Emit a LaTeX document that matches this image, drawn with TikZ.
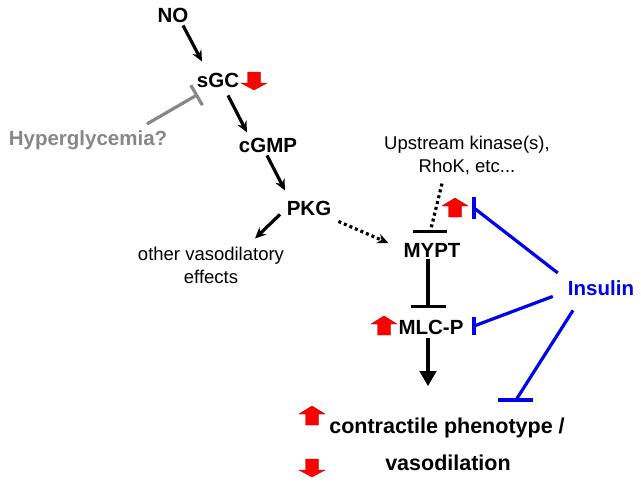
\documentclass[tikz,border=0pt]{standalone}
\usepackage{fontspec}
\setmainfont{Liberation Sans}
\usetikzlibrary{arrows.meta}
\definecolor{insblue}{RGB}{0,0,235}
\definecolor{hgray}{RGB}{135,135,135}
\definecolor{arrred}{RGB}{255,0,0}
\tikzset{
  redup/.pic={\filldraw[fill=arrred,draw=arrred!70!black,line width=0.4pt]
    (0,-10) -- (13,-2) -- (6.5,-2) -- (6.5,9) -- (-6.5,9) -- (-6.5,-2) -- (-13,-2) -- cycle;},
  reddown/.pic={\filldraw[fill=arrred,draw=arrred!70!black,line width=0.4pt]
    (0,9) -- (13,2) -- (6.5,2) -- (6.5,-9) -- (-6.5,-9) -- (-6.5,2) -- (-13,2) -- cycle;}
}
\begin{document}
\begin{tikzpicture}[x=1pt,y=-1pt,
  mol/.style = {font=\bfseries\fontsize{20.5}{24}\selectfont, anchor=base, inner sep=2pt},
  txt/.style = {font=\fontsize{18.5}{23}\selectfont, align=center, inner sep=2pt},
  act/.style = {line width=3.2pt, -{Stealth[length=11pt,width=10pt]}},
  dots/.style = {line width=3.2pt, dash pattern=on 3pt off 3pt},
  inhblue/.style = {line width=3.2pt, insblue}]
  \useasboundingbox (0,0) rectangle (641,483);
  % pathway
  \node[mol] (no) at (173,22) {NO};
  \node[mol] (sgc) at (218,87) {sGC};
  \node[mol] (cgmp) at (268,152) {cGMP};
  \node[mol] (pkg) at (309,215) {PKG};
  \node[mol, hgray] (hyper) at (88,145) {Hyperglycemia?};
  \node[txt] (other) at (211,265) {other vasodilatory\\effects};
  \node[txt] (ups) at (467,155) {Upstream kinase(s),\\RhoK, etc...};
  \node[mol] (mypt) at (432,257) {MYPT};
  \node[mol] (mlc) at (431,334) {MLC-P};
  \node[mol, insblue] (ins) at (601,295) {Insulin};
  \node[mol, font=\bfseries\fontsize{21.5}{24}\selectfont] (con) at (447,433) {contractile phenotype /};
  \node[mol, font=\bfseries\fontsize{21.5}{24}\selectfont] (vaso) at (448,470) {vasodilation};
  % red arrows
  \pic (d1) at (254,81) {reddown};
  \pic (u1) at (455,208) {redup};
  \pic (u2) at (384,326) {redup};
  \pic (u3) at (312,416) {redup};
  \pic (d2) at (312,468) {reddown};
  % ends of the blue bars
  \coordinate (t1) at (474,208);
  \coordinate (t2) at (474,326);
  \coordinate (t3) at (516,400);
  % connectors
  \draw[act] ([xshift=10pt,yshift=-1pt]no.south) -- ([xshift=-16pt,yshift=9pt]sgc.north);
  \draw[act] ([xshift=10pt,yshift=-6pt]sgc.south) -- ([xshift=-21pt,yshift=3pt]cgmp.north);
  \draw[act] ([xshift=-1pt,yshift=-1pt]cgmp.south) -- ([xshift=-24pt,yshift=8pt]pkg.north);
  \draw[act] ([xshift=-29pt,yshift=3pt]pkg.south) -- ([xshift=44pt,yshift=6pt]other.north);
  \draw[line width=3.2pt, hgray, -{Bar[width=23pt,line width=3.2pt]}]
    ([xshift=59pt,yshift=4pt]hyper.north) -- ([xshift=-20pt,yshift=-5pt]sgc.south);
  \draw[dots, -{Stealth[length=11pt,width=10pt]}]
    ([xshift=5pt,yshift=-4pt]pkg.south east) -- ([xshift=-13pt,yshift=7pt]mypt.west);
  \draw[dots] ([xshift=-25pt,yshift=-7pt]ups.south) -- ([xshift=-2pt,yshift=8pt]mypt.north);
  \draw[line width=3.2pt] ([xshift=-19pt,yshift=9pt]mypt.north) -- ([xshift=15pt,yshift=9pt]mypt.north);
  \draw[line width=3.2pt, -{Bar[width=35pt,line width=3.2pt]}] ([xshift=-4pt]mypt.south) -- ([xshift=-3pt,yshift=9pt]mlc.north);
  \draw[line width=4.5pt, -{Triangle[length=15pt,width=16pt]}] ([xshift=-3pt,yshift=-2pt]mlc.south) -- ([xshift=-19pt,yshift=29pt]con.north);
  % insulin
  \draw[inhblue] ([xshift=-8pt,yshift=5pt]ins.north west) -- (t1);
  \draw[inhblue] (t1) ++(0,-11) -- ++(0,22);
  \draw[inhblue] ([xshift=-13pt,yshift=1pt]ins.south west) -- (t2);
  \draw[inhblue] (t2) ++(0,-9) -- ++(0,18);
  \draw[inhblue] ([xshift=-28pt,yshift=-13pt]ins.south) -- (t3);
  \draw[inhblue] (t3) ++(-18,0) -- ++(35,0);
\end{tikzpicture}
\end{document}
